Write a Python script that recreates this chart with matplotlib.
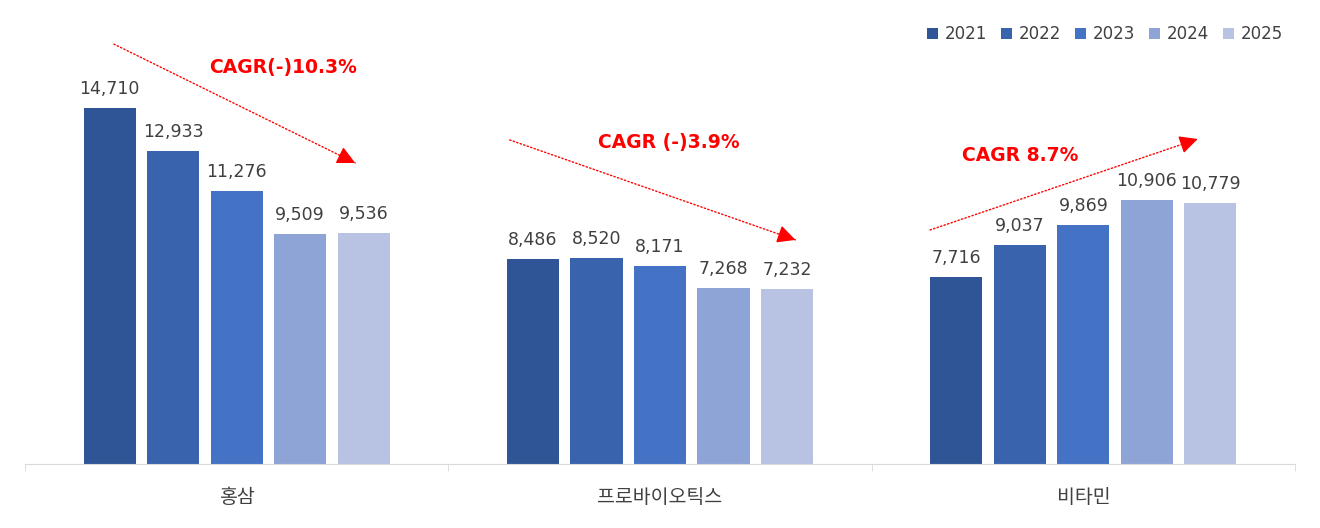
import numpy as np
import matplotlib
matplotlib.use("Agg")
import matplotlib.pyplot as plt

plt.rcParams['font.family'] = ['DejaVu Sans', 'Noto Sans CJK KR']

categories = ["홍삼", "프로바이오틱스", "비타민"]
years = ["2021", "2022", "2023", "2024", "2025"]
values = {
    "2021": [14710, 8486, 7716],
    "2022": [12933, 8520, 9037],
    "2023": [11276, 8171, 9869],
    "2024": [9509, 7268, 10906],
    "2025": [9536, 7232, 10779],
}
colors = ["#2F5597", "#3A63AD", "#4472C4", "#8FA4D6", "#B8C3E3"]

# CAGR annotations: label, text pos, arrow start, arrow end (data coords)
cagr_labels = ["CAGR(-)10.3%", "CAGR (-)3.9%", "CAGR 8.7%"]
cagr_text_xy = [(0.11, 16400), (1.02, 13300), (1.85, 12730)]
cagr_start = [(-0.29, 17350), (0.645, 13390), (1.638, 9670)]
cagr_end = [(0.28, 12440), (1.32, 9260), (2.27, 13430)]

fig = plt.figure(figsize=(13.2, 5.28), dpi=100)
ax = fig.add_axes([25 / 1320, 64 / 528, 1270 / 1320, 0.8250])

x = np.arange(len(categories))
pitch = 0.150
width = 0.123
bars = []
for i, (yr, col) in enumerate(zip(years, colors)):
    pos = x + (i - 2) * pitch
    b = ax.bar(pos, values[yr], width, color=col, label=yr)
    bars.append(b)
    for xx, v in zip(pos, values[yr]):
        ax.annotate(f"{v:,}", (xx, v), xytext=(0, 10), textcoords="offset points",
                    ha="center", va="baseline", fontsize=12.5, color="#404040")

for lab, txy, s, e in zip(cagr_labels, cagr_text_xy, cagr_start, cagr_end):
    s = np.array(s)
    e = np.array(e)
    # dotted shaft
    ax.annotate("", xy=e, xytext=s,
                arrowprops=dict(arrowstyle="-", color="red", lw=1, linestyle=":",
                                shrinkA=0, shrinkB=0))
    # solid head
    ax.annotate("", xy=e, xytext=e - 0.03 * (e - s),
                arrowprops=dict(arrowstyle="-|>,head_length=1.1,head_width=0.55",
                                color="red", lw=1, shrinkA=0, shrinkB=0))
    ax.text(txy[0], txy[1], lab, color="red", fontsize=13.5, fontweight="bold",
            ha="center", va="center")

ax.set_xlim(-0.5, 2.5)
ax.set_ylim(0, 18000)
for sp in ["top", "right", "left"]:
    ax.spines[sp].set_visible(False)
ax.spines["bottom"].set_color("#D9D9D9")
ax.set_yticks([])
ax.set_xticks(x)
ax.set_xticklabels(categories, fontsize=14, color="#404040")
ax.tick_params(axis="x", which="major", length=0, pad=17)
ax.set_xticks([-0.5, 0.5, 1.5, 2.5], minor=True)
ax.tick_params(axis="x", which="minor", length=5, color="#D9D9D9")

fig.legend(handles=bars, labels=years, loc="upper right", bbox_to_anchor=(1298 / 1320, 1 - 10 / 528),
           ncol=5, frameon=False, fontsize=12, handlelength=0.65, handleheight=0.65,
           handletextpad=0.4, columnspacing=0.85, labelcolor="#404040")

fig.savefig("out.png", dpi=100)
